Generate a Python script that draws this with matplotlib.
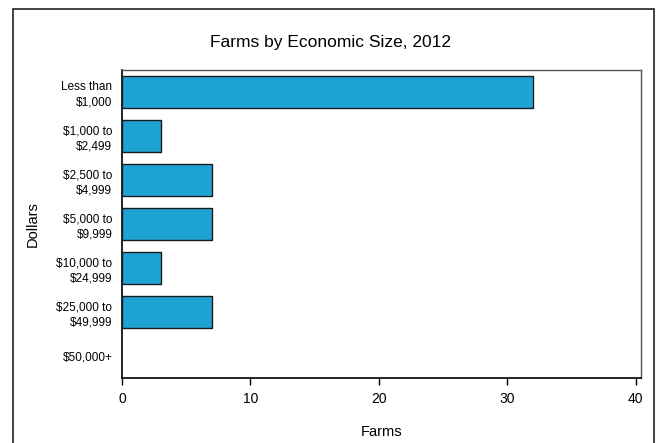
import matplotlib.pyplot as plt
from matplotlib.patches import Rectangle
import numpy as np

plt.rcParams['font.family'] = ['Liberation Sans', 'DejaVu Sans']

categories = ["Less than\n$1,000", "$1,000 to\n$2,499", "$2,500 to\n$4,999",
              "$5,000 to\n$9,999", "$10,000 to\n$24,999", "$25,000 to\n$49,999",
              "$50,000+"]
farms = [32, 3, 7, 7, 3, 7, 0]
xticks = [0, 10, 20, 30, 40]

W, H = 658, 443
fig = plt.figure(figsize=(W / 100, H / 100), dpi=100)
ax = fig.add_axes([122 / W, 1 - 378 / H, (641 - 122) / W, (378 - 70) / H])

y = np.arange(len(categories))
vals = np.array(farms, dtype=float)
edge_w = np.where(vals > 0, 1.0, 0.0)
# shadow behind each bar, then the bar itself with a dark edge
ax.barh(y + 0.03, np.where(vals > 0, vals + 0.08, 0), height=0.73,
        color="#1fa3d5", edgecolor="none", zorder=2)
ax.barh(y, vals, height=0.73, color="#1fa3d5", edgecolor="#1a1a1a",
        linewidth=edge_w, zorder=3)

ax.set_xlim(0, 40.4)
ax.set_ylim(len(categories) - 0.5, -0.5)
ax.set_yticks(y)
ax.set_yticklabels(categories, fontsize=8.5, linespacing=1.35)
ax.set_xticks(xticks)
ax.tick_params(axis="y", length=0, pad=7)
ax.tick_params(axis="x", length=5, width=1, labelsize=10, pad=5, direction="out")

for side in ["left", "bottom"]:
    ax.spines[side].set_linewidth(1.2)
    ax.spines[side].set_color("black")
for side in ["top", "right"]:
    ax.spines[side].set_linewidth(1.0)
    ax.spines[side].set_color("#555555")

ax.set_xlabel("Farms", fontsize=10.5, labelpad=14)
ax.set_ylabel("Dollars", fontsize=10.5, labelpad=12)
fig.text(330 / W, 1 - 42 / H, "Farms by Economic Size, 2012", fontsize=12.5,
         ha="center", va="center")

# outer frame of the picture
fig.patches.append(Rectangle((13 / W, -0.05), (654 - 13) / W, 1.05 - 9 / H,
                             transform=fig.transFigure, fill=False,
                             edgecolor="#222222", linewidth=1.2))

fig.savefig("out.png", dpi=100)
